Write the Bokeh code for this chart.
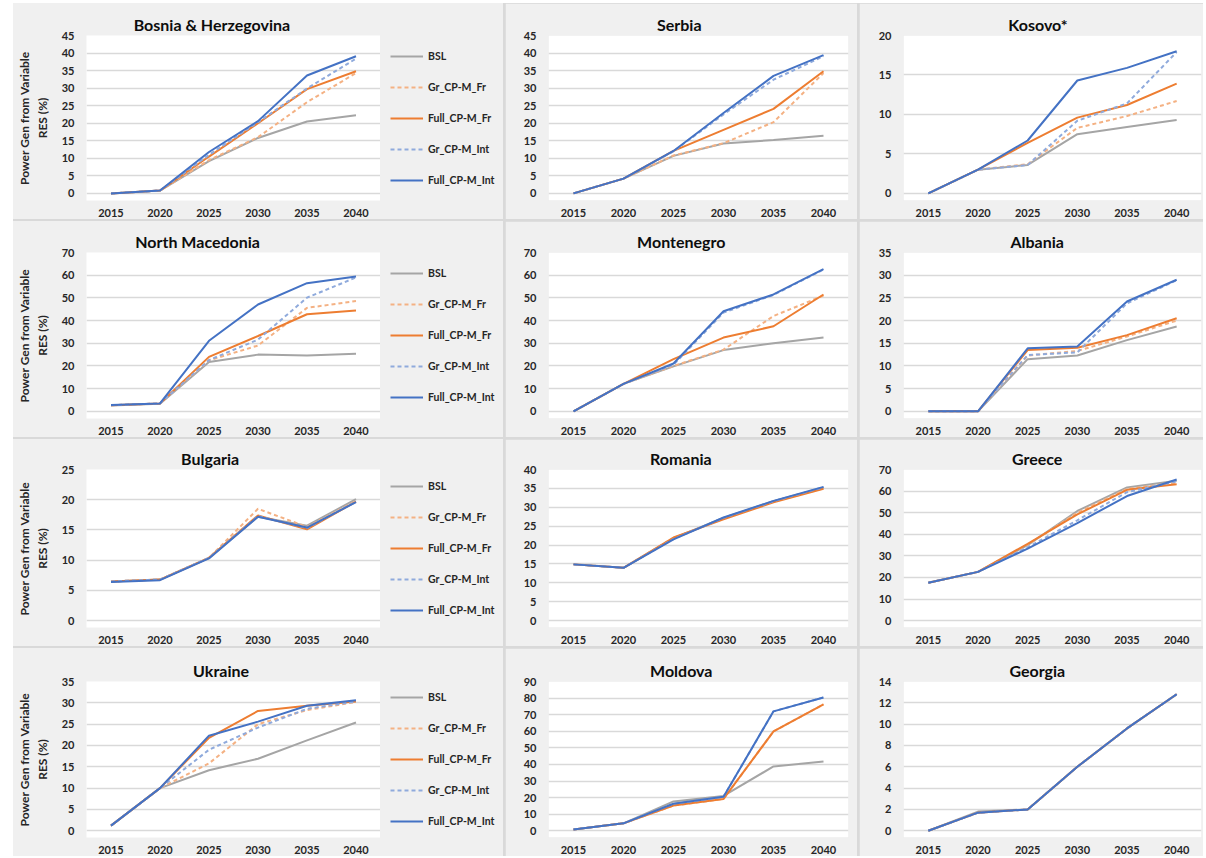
from bokeh.plotting import figure
from bokeh.models import Range1d, FixedTicker, Legend, LegendItem, Title
from bokeh.layouts import row, column
from bokeh.embed import file_html
from bokeh.resources import INLINE

YEARS = [2015, 2020, 2025, 2030, 2035, 2040]
SERIES = ["BSL", "Gr_CP-M_Fr", "Full_CP-M_Fr", "Gr_CP-M_Int", "Full_CP-M_Int"]
COLORS = ["#a5a5a5", "#f4b183", "#ed7d31", "#8faadc", "#4472c4"]
DASHES = ["solid", "4 3", "solid", "4 3", "solid"]

bosnia = {
    "BSL": [0.0, 0.8, 9.2, 15.8, 20.5, 22.3],
    "Gr_CP-M_Fr": [0.0, 0.8, 9.5, 16.0, 26.0, 34.3],
    "Full_CP-M_Fr": [0.0, 0.8, 10.5, 20.0, 29.7, 34.8],
    "Gr_CP-M_Int": [0.0, 0.8, 11.0, 20.3, 29.9, 38.4],
    "Full_CP-M_Int": [0.0, 0.8, 11.8, 20.6, 33.6, 39.1],
}
serbia = {
    "BSL": [0.0, 4.2, 10.7, 14.2, 15.2, 16.4],
    "Gr_CP-M_Fr": [0.0, 4.2, 10.8, 14.3, 20.3, 34.3],
    "Full_CP-M_Fr": [0.0, 4.2, 12.1, 18.1, 24.1, 34.8],
    "Gr_CP-M_Int": [0.0, 4.2, 12.0, 22.5, 32.4, 39.1],
    "Full_CP-M_Int": [0.0, 4.2, 12.1, 22.9, 33.5, 39.4],
}
kosovo = {
    "BSL": [0.0, 3.0, 3.6, 7.5, 8.4, 9.3],
    "Gr_CP-M_Fr": [0.0, 3.0, 3.7, 8.3, 9.8, 11.7],
    "Full_CP-M_Fr": [0.0, 3.0, 6.4, 9.6, 11.2, 13.9],
    "Gr_CP-M_Int": [0.0, 3.0, 3.6, 9.2, 11.4, 17.9],
    "Full_CP-M_Int": [0.0, 3.0, 6.7, 14.3, 15.9, 18.0],
}
north_macedonia = {
    "BSL": [2.6, 3.3, 21.7, 25.0, 24.6, 25.4],
    "Gr_CP-M_Fr": [2.7, 3.5, 22.5, 29.0, 45.6, 48.6],
    "Full_CP-M_Fr": [2.7, 3.5, 24.0, 33.2, 42.8, 44.4],
    "Gr_CP-M_Int": [2.7, 3.5, 22.6, 31.6, 50.1, 59.0],
    "Full_CP-M_Int": [2.8, 3.5, 31.1, 47.1, 56.5, 59.4],
}
montenegro = {
    "BSL": [0.0, 12.1, 19.8, 27.0, 30.0, 32.5],
    "Gr_CP-M_Fr": [0.0, 12.1, 20.0, 27.2, 42.0, 51.0],
    "Full_CP-M_Fr": [0.0, 12.1, 23.0, 32.5, 37.5, 51.5],
    "Gr_CP-M_Int": [0.0, 12.1, 20.5, 43.5, 51.3, 62.5],
    "Full_CP-M_Int": [0.0, 12.1, 21.1, 44.1, 51.5, 62.7],
}
albania = {
    "BSL": [0.0, 0.0, 11.5, 12.3, 15.7, 18.7],
    "Gr_CP-M_Fr": [0.0, 0.0, 12.3, 13.3, 16.5, 20.0],
    "Full_CP-M_Fr": [0.0, 0.0, 13.5, 14.0, 16.8, 20.5],
    "Gr_CP-M_Int": [0.0, 0.0, 12.4, 13.0, 23.8, 28.9],
    "Full_CP-M_Int": [0.0, 0.0, 13.9, 14.3, 24.2, 29.0],
}
bulgaria = {
    "BSL": [6.5, 6.8, 10.4, 17.2, 15.7, 20.1],
    "Gr_CP-M_Fr": [6.5, 6.8, 10.4, 18.5, 15.5, 19.8],
    "Full_CP-M_Fr": [6.5, 6.8, 10.4, 17.4, 15.1, 19.7],
    "Gr_CP-M_Int": [6.5, 6.8, 10.4, 17.3, 15.3, 19.7],
    "Full_CP-M_Int": [6.4, 6.7, 10.3, 17.2, 15.4, 19.6],
}
romania = {
    "BSL": [14.9, 14.0, 21.8, 27.2, 31.6, 35.2],
    "Gr_CP-M_Fr": [14.9, 14.0, 21.9, 27.0, 31.5, 35.0],
    "Full_CP-M_Fr": [14.9, 14.0, 22.0, 26.8, 31.3, 34.9],
    "Gr_CP-M_Int": [14.9, 14.0, 21.6, 27.2, 31.6, 35.3],
    "Full_CP-M_Int": [14.9, 14.0, 21.5, 27.3, 31.7, 35.4],
}
greece = {
    "BSL": [17.6, 22.6, 35.0, 50.8, 61.7, 64.8],
    "Gr_CP-M_Fr": [17.6, 22.6, 35.2, 50.0, 61.0, 64.0],
    "Full_CP-M_Fr": [17.6, 22.6, 35.6, 49.2, 60.6, 63.2],
    "Gr_CP-M_Int": [17.6, 22.6, 34.0, 46.5, 59.5, 64.5],
    "Full_CP-M_Int": [17.6, 22.6, 33.4, 45.2, 57.7, 65.4],
}
ukraine = {
    "BSL": [1.2, 10.0, 14.2, 16.9, 21.2, 25.4],
    "Gr_CP-M_Fr": [1.2, 10.0, 15.8, 25.0, 28.3, 30.2],
    "Full_CP-M_Fr": [1.2, 10.0, 21.8, 28.1, 29.3, 30.3],
    "Gr_CP-M_Int": [1.2, 10.0, 19.0, 24.2, 28.6, 30.3],
    "Full_CP-M_Int": [1.2, 10.0, 22.3, 25.6, 29.3, 30.6],
}
moldova = {
    "BSL": [0.8, 4.5, 17.7, 21.0, 38.8, 41.7],
    "Gr_CP-M_Fr": [0.8, 4.5, 15.2, 19.2, 59.9, 76.2],
    "Full_CP-M_Fr": [0.8, 4.5, 15.2, 19.2, 59.9, 76.2],
    "Gr_CP-M_Int": [0.8, 4.5, 16.3, 20.5, 72.0, 80.4],
    "Full_CP-M_Int": [0.8, 4.5, 16.3, 20.5, 72.0, 80.4],
}
georgia = {
    "BSL": [0.0, 1.8, 2.0, 6.0, 9.6, 12.8],
    "Gr_CP-M_Fr": [0.0, 1.7, 2.0, 6.0, 9.6, 12.8],
    "Full_CP-M_Fr": [0.0, 1.7, 2.0, 6.0, 9.6, 12.8],
    "Gr_CP-M_Int": [0.0, 1.7, 2.0, 6.0, 9.6, 12.8],
    "Full_CP-M_Int": [0.0, 1.7, 2.0, 6.0, 9.6, 12.8],
}

YLABEL = "Power Gen from Variable\nRES (%)"

# (title, data, ymax, step, title centre measured from frame left)
GRID = [
    [("Bosnia & Herzegovina", bosnia, 45, 5, 125), ("Serbia", serbia, 45, 5, 131), ("Kosovo*", kosovo, 20, 5, 135)],
    [("North Macedonia", north_macedonia, 70, 10, 111), ("Montenegro", montenegro, 70, 10, 133), ("Albania", albania, 35, 5, 134)],
    [("Bulgaria", bulgaria, 25, 5, 124), ("Romania", romania, 40, 5, 133), ("Greece", greece, 70, 10, 134)],
    [("Ukraine", ukraine, 35, 5, 135), ("Moldova", moldova, 90, 10, 133), ("Georgia", georgia, 14, 2, 134)],
]

COL_W = [367, 352, 344]
LEG_W = 123
COL_LEFT = [64, 43, 44]
COL_RIGHT = [0, 9, 2]
ROW_H = [216, 216, 207, 208]
ROW_TOP = [32, 31, 30, 33]
BOTTOM = 17
FONT = "Lato"
TXT = "#262626"
BG = "#f0f0f0"
TITLE_SIZE = 16

# approximate advance widths (em) of the bold title font, used to centre titles
CW = {"A": .68, "B": .65, "G": .72, "H": .76, "K": .68, "M": .92, "N": .76, "R": .64,
      "S": .54, "U": .74, "a": .52, "b": .57, "c": .47, "d": .57, "e": .54, "g": .52,
      "h": .57, "i": .26, "k": .54, "l": .26, "m": .86, "n": .57, "o": .57, "r": .38,
      "s": .44, "t": .37, "u": .57, "v": .52, "z": .46, " ": .19, "&": .70, "*": .42}


def text_w(s, size):
    return sum(CW.get(c, 0.55) for c in s) * size


def add_lines(p, data, visible=True):
    rs = []
    for name, color, dash in zip(SERIES, COLORS, DASHES):
        rs.append(p.line(YEARS, data[name], line_color=color, line_width=2,
                         line_dash=dash, visible=visible))
    return rs


def make_panel(title, data, ymax, step, tx, ci, ri):
    w, h = COL_W[ci], ROW_H[ri]
    t = ROW_TOP[ri]
    p = figure(width=w, height=h, output_backend="svg", toolbar_location=None, title=None,
               x_range=Range1d(2012.5, 2042.5), y_range=Range1d(-0.045 * ymax, ymax),
               min_border_left=COL_LEFT[ci], min_border_right=COL_RIGHT[ci],
               min_border_top=t, min_border_bottom=BOTTOM,
               background_fill_color="white", border_fill_color=BG,
               outline_line_color=None)
    p.xaxis.ticker = FixedTicker(ticks=YEARS)
    p.yaxis.ticker = FixedTicker(ticks=list(range(0, ymax + 1, step)))
    p.xgrid.visible = False
    p.ygrid.grid_line_color = "#d9d9d9"
    p.ygrid.grid_line_width = 1.5
    for ax in (p.xaxis[0], p.yaxis[0]):
        ax.axis_line_color = None
        ax.major_tick_line_color = None
        ax.minor_tick_line_color = None
        ax.major_label_text_font = FONT
        ax.major_label_text_font_style = "bold"
        ax.major_label_text_font_size = "11px"
        ax.major_label_text_color = TXT
    p.xaxis.major_label_standoff = 2
    p.yaxis.major_label_standoff = 6

    add_lines(p, data)

    p.add_layout(Title(text=title, align="left", offset=tx - text_w(title, TITLE_SIZE) / 2,
                       text_font=FONT, text_font_style="bold",
                       text_font_size=f"{TITLE_SIZE}px", text_color="#0d0d0d", standoff=4), "above")
    if ci != 0:
        return p

    p.yaxis.axis_label = YLABEL
    p.yaxis.axis_label_text_font = FONT
    p.yaxis.axis_label_text_font_style = "bold"
    p.yaxis.axis_label_text_font_size = "12px"
    p.yaxis.axis_label_text_color = TXT
    p.yaxis.axis_label_standoff = 9

    # legend in its own narrow figure to the right of the chart
    lf = figure(width=LEG_W, height=h, output_backend="svg", toolbar_location=None, title=None,
                x_range=Range1d(2012.5, 2042.5), y_range=Range1d(-0.045 * ymax, ymax),
                x_axis_type=None, y_axis_type=None, min_border_left=0, min_border_right=0,
                min_border_top=t, min_border_bottom=BOTTOM,
                background_fill_color=BG, border_fill_color=BG, outline_line_color=None)
    lf.xgrid.visible = False
    lf.ygrid.visible = False
    rs = add_lines(lf, data, visible=False)
    legend = Legend(items=[LegendItem(label=n, renderers=[r]) for n, r in zip(SERIES, rs)],
                    location="left", border_line_color=None, background_fill_alpha=0,
                    padding=0, margin=10, spacing=11, glyph_width=33, glyph_height=20,
                    label_height=20, label_standoff=5, label_text_font=FONT,
                    label_text_font_style="bold", label_text_font_size="10.5px",
                    label_text_color=TXT)
    lf.add_layout(legend)
    return row(p, lf, spacing=0, styles={"background-color": BG})


rows = []
for ri, specs in enumerate(GRID):
    figs = [make_panel(*spec, ci, ri) for ci, spec in enumerate(specs)]
    rows.append(row(*figs, spacing=2))

layout = column(*rows, spacing=2, margin=(3, 0, 0, 13), styles={"background-color": "#d9d9d9"})

open("out.html", "w").write(file_html(layout, INLINE))
